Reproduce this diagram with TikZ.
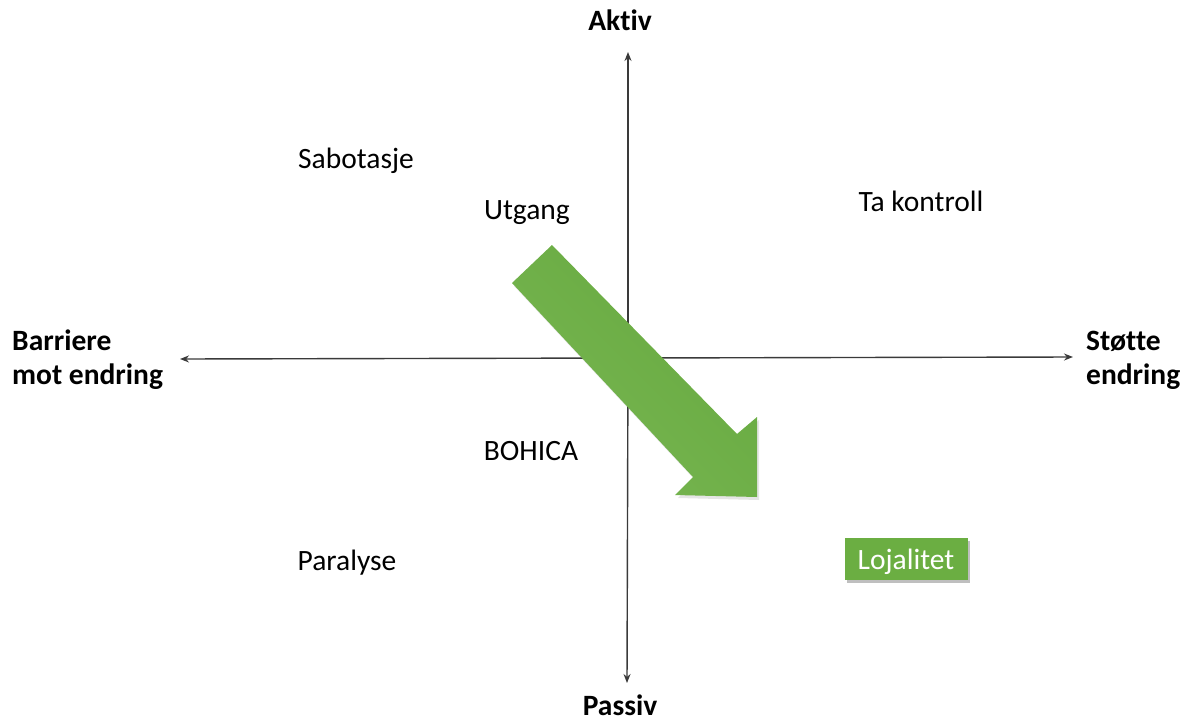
\documentclass[tikz,border=0pt]{standalone}
\usepackage{fontspec}
\setmainfont{Carlito}[Ligatures=CommonOff]
\usetikzlibrary{arrows.meta,shadows}
\definecolor{axisgray}{HTML}{3A3A3A}
\definecolor{leafgreen}{HTML}{6BAE42}
\definecolor{leaflight}{HTML}{78B652}
\definecolor{leafdark}{HTML}{66A93F}
\tikzset{
  axisline/.style={draw=axisgray, line width=1.4pt, -{Stealth[length=9pt,width=7pt]}},
  polelabel/.style={font=\fontsize{29.5}{34}\selectfont\bfseries, inner sep=0pt},
  sidelabel/.style={polelabel, anchor=west, align=left},
  zonelabel/.style={font=\fontsize{29.5}{34}\selectfont, inner sep=0pt},
  greenbox/.style={fill=leafgreen, draw=none, text=white, minimum width=123pt, minimum height=42pt,
    font=\fontsize{29.5}{34}\selectfont, inner sep=0pt, text depth=0pt,
    drop shadow={shadow xshift=2pt, shadow yshift=-3pt, opacity=0.25, fill=black}},
}
\begin{document}
\begin{tikzpicture}[x=1pt,y=-1pt]
\useasboundingbox (0,0) rectangle (1188,723);

% axis anchors
\coordinate (top) at (628,52);
\coordinate (bottom) at (627,683);
\coordinate (left) at (180,359);
\coordinate (right) at (1073,357);
\coordinate (centre) at (628,358);

\draw[axisline] (centre) -- (top);
\draw[axisline] (centre) -- (bottom);
\draw[axisline] (centre) -- (left);
\draw[axisline] (centre) -- (right);

% pole labels
\node[polelabel] (aktiv) at (620,20) {Aktiv};
\node[polelabel] (passiv) at (620,705) {Passiv};
\node[sidelabel] (barriere) at (12,360) {Barriere\\mot endring};
\node[sidelabel] (stotte) at (1086,360) {Støtte\\endring};

% zone labels
\node[zonelabel] (sabotasje) at (356,161) {Sabotasje};
\node[zonelabel] (utgang) at (527,213) {Utgang};
\node[zonelabel] (takontroll) at (921,201) {Ta kontroll};
\node[zonelabel] (bohica) at (531,451) {BOHICA};
\node[zonelabel] (paralyse) at (347,563) {Paralyse};

% movement arrow
\fill[black, opacity=0.10] (514,286) -- (554,248) -- (739,437) -- (759,420) -- (759,500) -- (678,498) -- (695,480) -- cycle;
\shade[left color=leafdark, right color=leaflight, shading angle=-45]
  (512,283) -- (552,245) -- (737,434) -- (757,417) -- (757,497) -- (675,495) -- (693,477) -- cycle;

% result box
\node[greenbox] (lojalitet) at (906,559) {Lojalitet};
\end{tikzpicture}
\end{document}
